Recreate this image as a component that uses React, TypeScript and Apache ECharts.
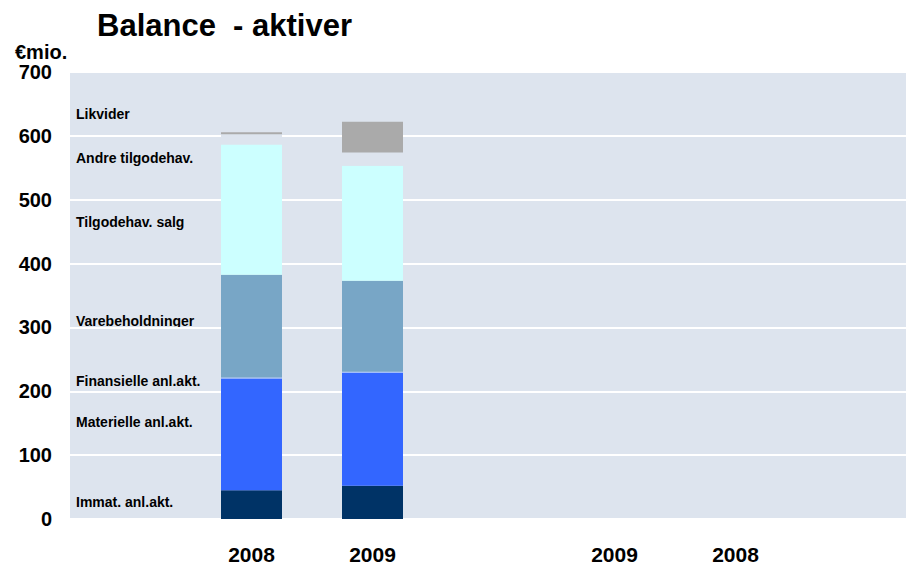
import React, { useEffect, useRef } from "react";
import * as echarts from "echarts";

const categories = ["", "2008", "2009", "", "2009", "2008", ""];
const seriesNames = [
  "Immat. anl.akt.",
  "Materielle anl.akt.",
  "Finansielle anl.akt.",
  "Varebeholdninger",
  "Tilgodehav. salg",
  "Andre tilgodehav.",
  "Likvider",
];
const immat = [null, 45, 52, null, null, null, null];
const materielle = [null, 175, 177, null, null, null, null];
const finansielle = [null, 1.5, 1.5, null, null, null, null];
const varebeholdninger = [null, 161, 142.5, null, null, null, null];
const tilgodehavSalg = [null, 204, 180, null, null, null, null];
const andreTilgodehav = [null, 16, 21, null, null, null, null];
const likvider = [null, 3, 48, null, null, null, null];
const seriesData = [immat, materielle, finansielle, varebeholdninger, tilgodehavSalg, andreTilgodehav, likvider];
const seriesColors = ["#003366", "#3366FF", "#9DBBFF", "#78A6C6", "#CCFFFF", "#DDE4EE", "#AAAAAA"];
const labelY = [502, 422, 381, 321, 222, 158, 114];
const FONT = "'Liberation Sans', Arial, sans-serif";

export default function App() {
  const ref = useRef<HTMLDivElement>(null);
  useEffect(() => {
    const chart = echarts.init(ref.current!, null, { renderer: "svg" });
    chart.setOption({
      animation: false,
      backgroundColor: "#FFFFFF",
      title: {
        text: "Balance  - aktiver",
        left: 97,
        top: 10,
        padding: 0,
        textStyle: { fontFamily: FONT, fontSize: 31, fontWeight: "bold", color: "#000" },
      },
      grid: {
        left: 70,
        right: 0,
        top: 72,
        bottom: 46,
        show: true,
        backgroundColor: "#DDE4EE",
        borderWidth: 0,
      },
      xAxis: {
        type: "category",
        data: categories,
        axisLine: { show: false },
        axisTick: { show: false },
        axisLabel: { margin: 25, fontFamily: FONT, fontSize: 21, fontWeight: "bold", color: "#000", interval: 0 },
      },
      yAxis: {
        type: "value",
        min: 0,
        max: 700,
        interval: 100,
        axisLine: { show: false },
        axisTick: { show: false },
        splitLine: { lineStyle: { color: "#FFFFFF", width: 2 } },
        axisLabel: { margin: 18, fontFamily: FONT, fontSize: 20, fontWeight: "bold", color: "#000" },
      },
      graphic: [
        {
          type: "text",
          x: 15,
          y: 52,
          style: { text: "€mio.", font: `bold 20px ${FONT}`, fill: "#000", verticalAlign: "middle" },
        },
        ...seriesNames.map((n, i) => ({
          type: "text",
          x: 76,
          y: labelY[i],
          style: { text: n, font: `bold 14px ${FONT}`, fill: "#000", verticalAlign: "middle" },
        })),
      ],
      series: seriesNames.map((n, i) => ({
        name: n,
        type: "bar",
        stack: "total",
        barWidth: 61,
        data: seriesData[i],
        itemStyle: { color: seriesColors[i] },
      })),
    });
    return () => chart.dispose();
  }, []);
  return (
    <div style={{ position: "fixed", left: 0, top: 0, width: 906, height: 565, overflow: "hidden" }}>
      <div ref={ref} style={{ width: 917, height: 565 }} />
    </div>
  );
}
